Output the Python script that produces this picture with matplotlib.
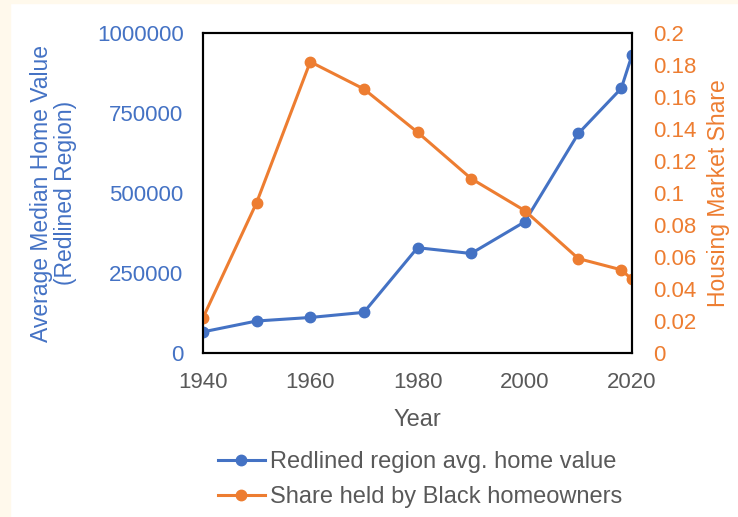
import matplotlib.pyplot as plt
from matplotlib.patches import Rectangle
from matplotlib.ticker import FuncFormatter

plt.rcParams["font.family"] = ["Liberation Sans", "DejaVu Sans"]

# Data
years = [1940, 1950, 1960, 1970, 1980, 1990, 2000, 2010, 2018, 2020]
home_value = [66000, 100000, 111000, 127000, 329000, 311000, 410000, 686000, 827000, 931000]
black_share = [0.022, 0.094, 0.182, 0.165, 0.138, 0.109, 0.089, 0.059, 0.052, 0.046]

blue = "#4472C4"
orange = "#ED7D31"
grey = "#595959"
cream = "#fff9ec"

W, H = 738, 517
fig = plt.figure(figsize=(W / 100, H / 100), dpi=100, facecolor="white")
# thin cream strip left/top from the screenshot
fig.patches.append(Rectangle((0, 0), 10 / W, 1, transform=fig.transFigure,
                             color=cream, zorder=0))
fig.patches.append(Rectangle((0, 1 - 3 / H), 1, 3 / H, transform=fig.transFigure,
                             color=cream, zorder=0))

ax = fig.add_axes([203 / W, 1 - 353 / H, 429 / W, 320 / H])
ax2 = ax.twinx()

l1, = ax.plot(years, home_value, color=blue, lw=2.2, marker="o", ms=7.5,
              label="Redlined region avg. home value", zorder=3)
l2, = ax2.plot(years, black_share, color=orange, lw=2.2, marker="o", ms=7.5,
               label="Share held by Black homeowners")

ax.set_xlim(1940, 2020)
ax.set_ylim(0, 1000000)
ax2.set_ylim(0, 0.2)
ax.set_xticks(range(1940, 2021, 20))
ax.set_yticks([0, 250000, 500000, 750000, 1000000])
ax.yaxis.set_major_formatter(FuncFormatter(lambda v, p: f"{int(v)}"))
ax2.set_yticks([i / 100 for i in range(0, 21, 2)])
ax2.set_yticklabels(["0", "0.02", "0.04", "0.06", "0.08", "0.1", "0.12",
                     "0.14", "0.16", "0.18", "0.2"])

ax.tick_params(axis="x", length=0, pad=14, labelsize=16, labelcolor=grey)
ax.tick_params(axis="y", length=0, pad=14, labelsize=16, labelcolor=blue)
ax2.tick_params(axis="y", length=0, pad=15, labelsize=16, labelcolor=orange)

for a in (ax, ax2):
    for s in a.spines.values():
        s.set_linewidth(1.5)
        s.set_color("black")

ax.set_xlabel("Year", fontsize=17, color=grey, labelpad=11)
ax.set_ylabel("Average Median Home Value\n(Redlined Region)", fontsize=16.5,
              color=blue, labelpad=14, linespacing=1.1)
ax2.set_ylabel("Housing Market Share", fontsize=16.5, color=orange, labelpad=8)

fig.legend(handles=[l1, l2], loc="upper center", bbox_to_anchor=(0.569, 0.145),
           frameon=False, fontsize=17, labelcolor=grey, handlelength=2.0,
           handletextpad=0.2, labelspacing=0.55, borderaxespad=0)

fig.savefig("out.png", dpi=100, facecolor="white")
